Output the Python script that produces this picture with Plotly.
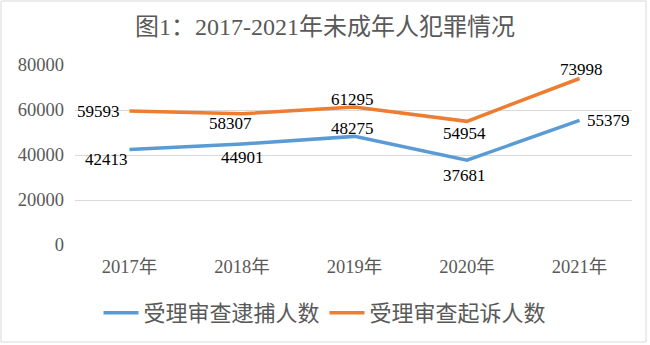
import plotly.graph_objects as go

# Data
years = ["2017年", "2018年", "2019年", "2020年", "2021年"]
arrest_review = [42413, 44901, 48275, 37681, 55379]      # 受理审查逮捕人数
prosecution_review = [59593, 58307, 61295, 54954, 73998]  # 受理审查起诉人数
series_names = ["受理审查逮捕人数", "受理审查起诉人数"]
y_ticks = [0, 20000, 40000, 60000, 80000]

# Styling
BLUE = "#5B9BD5"
ORANGE = "#ED7D31"
GRAY_TEXT = "#595959"
GRID = "#D9D9D9"
FONT = "Liberation Serif, Noto Sans CJK SC, serif"

# Pixel offsets for each value label (dx, dy)
arrest_label_shift = [(-23, -10), (0, -14), (-2, 8), (-3, -15), (29, 0)]
prosecution_label_shift = [(-31, -1), (-12, -10), (-2, 8), (-3, -12), (2, 9)]

fig = go.Figure()
fig.add_trace(go.Scatter(x=years, y=arrest_review, mode="lines", name=series_names[0],
                         line=dict(color=BLUE, width=3.5)))
fig.add_trace(go.Scatter(x=years, y=prosecution_review, mode="lines", name=series_names[1],
                         line=dict(color=ORANGE, width=3.5)))

annotations = []
for values, shifts in ((arrest_review, arrest_label_shift),
                       (prosecution_review, prosecution_label_shift)):
    for x, v, (dx, dy) in zip(years, values, shifts):
        annotations.append(dict(x=x, y=v, text=str(v), showarrow=False,
                                xshift=dx, yshift=dy,
                                font=dict(family=FONT, size=17, color="#000000")))

W, H = 650, 345
ML, MR, MT, MB = 75, 18, 65, 100
pw, ph = W - ML - MR, H - MT - MB

def px_x(p):
    return (p - ML) / pw

def px_y(p):
    return (H - MB - p) / ph

fig.update_layout(
    width=W, height=H,
    margin=dict(l=ML, r=MR, t=MT, b=MB, autoexpand=False),
    paper_bgcolor="white", plot_bgcolor="white",
    title=dict(text="图1：2017-2021年未成年人犯罪情况", x=0.5, xref="container",
               y=1 - 27 / H, yref="container", xanchor="center", yanchor="middle",
               font=dict(family=FONT, size=24, color=GRAY_TEXT)),
    xaxis=dict(showgrid=False, showline=False, zeroline=False, ticks="",
               ticklabelstandoff=8, tickangle=0,
               tickfont=dict(family=FONT, size=18.5, color=GRAY_TEXT)),
    yaxis=dict(range=[0, 80000], tickvals=y_ticks, ticktext=[str(t) for t in y_ticks],
               showgrid=True, gridcolor=GRID, gridwidth=1, zeroline=False,
               showline=False, ticks="", ticklabelstandoff=10,
               tickfont=dict(family=FONT, size=18.5, color=GRAY_TEXT)),
    legend=dict(orientation="h", x=px_x(325), xanchor="center",
                y=px_y(313), yanchor="middle",
                font=dict(family=FONT, size=22, color=GRAY_TEXT),
                itemwidth=35),
    annotations=annotations,
    shapes=[dict(type="rect", xref="paper", yref="paper",
                 x0=px_x(1), x1=px_x(646), y0=px_y(342), y1=px_y(1),
                 line=dict(color=GRID, width=1), layer="below")],
    showlegend=True,
)

fig.write_html("out.html")
